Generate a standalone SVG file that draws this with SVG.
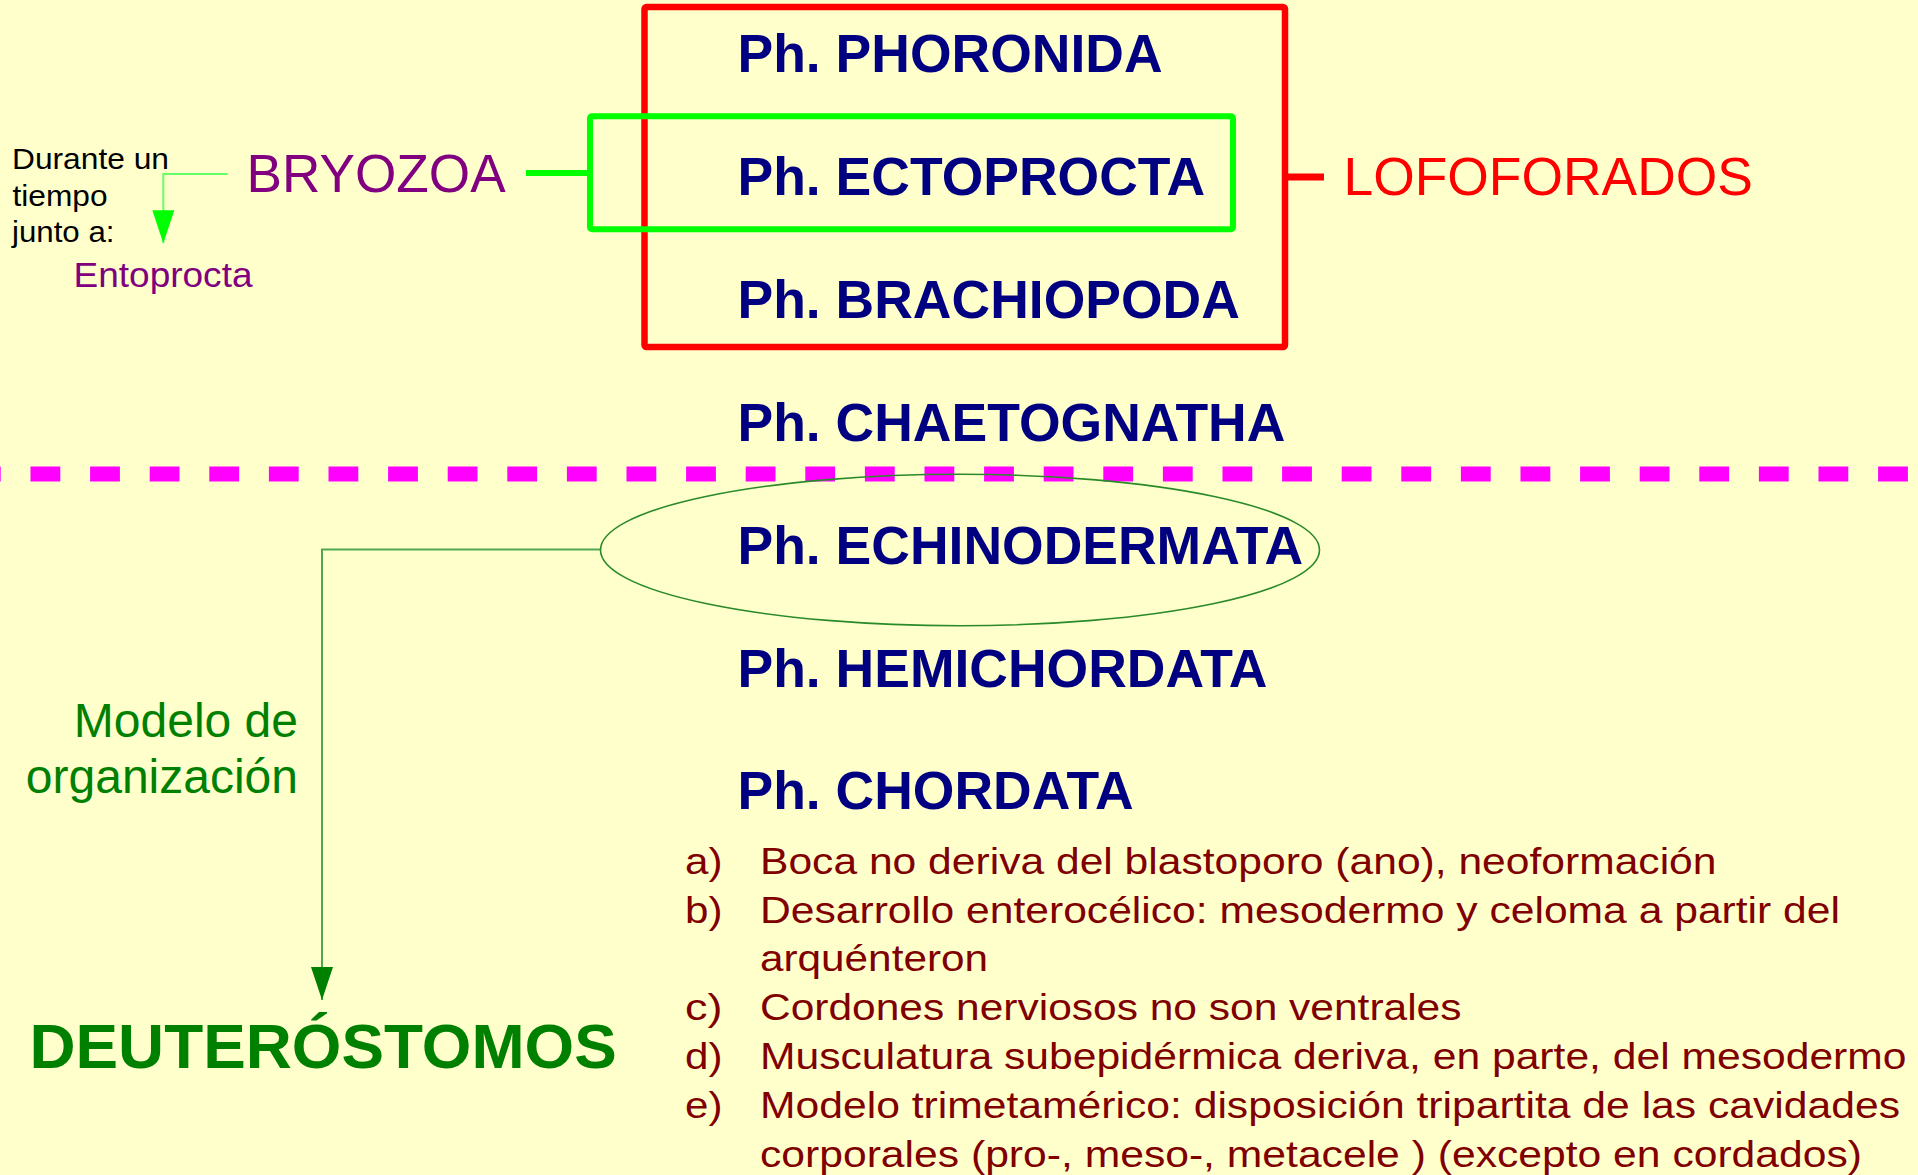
<svg xmlns="http://www.w3.org/2000/svg" width="1918" height="1175" viewBox="0 0 1918 1175">
<style>
.ph{font-family:"Liberation Sans",Arial,sans-serif;font-weight:bold;font-size:53.5px;fill:#000080}
.sans{font-family:"Liberation Sans",Arial,sans-serif}
.item{font-family:"Liberation Sans",Arial,sans-serif;font-size:36px;fill:#800000}
</style>
<defs>
<marker id="arrL" viewBox="0 0 22 33" refX="11" refY="33" markerWidth="22" markerHeight="33" markerUnits="userSpaceOnUse" orient="0">
<path d="M0 0 L22 0 L11 33 Z" fill="#00ff00"/>
</marker>
<marker id="arrD" viewBox="0 0 22 33" refX="11" refY="33" markerWidth="22" markerHeight="33" markerUnits="userSpaceOnUse" orient="0">
<path d="M0 0 L22 0 L11 33 Z" fill="#008000"/>
</marker>
</defs>
<rect x="0" y="0" width="1918" height="1175" fill="#ffffcc"/>

<g id="divider">
<line x1="0" y1="474" x2="1918" y2="474" stroke="#ff00ff" stroke-width="15" stroke-dasharray="29.8 29.8" stroke-dashoffset="29.1"/>
</g>

<g id="connectors" fill="none">
<path d="M526 173 H590" stroke="#00ff00" stroke-width="6"/>
<path d="M1285 177 H1324" stroke="#ff0000" stroke-width="7"/>
<path d="M227.7 174 H163.3 V243.3" stroke="#66ff66" stroke-width="2" marker-end="url(#arrL)"/>
<path d="M600.4 549.5 H322 V1000" stroke="#4fa84f" stroke-width="2" marker-end="url(#arrD)"/>
</g>

<g id="lofoforados-box">
<rect x="644.5" y="7" width="640.5" height="340" rx="2" fill="none" stroke="#ff0000" stroke-width="6.5"/>
</g>
<g id="bryozoa-box">
<rect x="590" y="116.3" width="643" height="113" rx="2" fill="none" stroke="#00ff00" stroke-width="6"/>
</g>
<g id="echinodermata-ellipse">
<ellipse cx="960" cy="550" rx="359.5" ry="75.7" fill="none" stroke="#2a8a2a" stroke-width="1.6"/>
</g>

<g id="phoronida"><text class="ph" x="737.5" y="71.7">Ph. PHORONIDA</text></g>
<g id="ectoprocta"><text class="ph" x="737.5" y="194.6">Ph. ECTOPROCTA</text></g>
<g id="brachiopoda"><text class="ph" x="737.5" y="317.5">Ph. BRACHIOPODA</text></g>
<g id="chaetognatha"><text class="ph" x="737.5" y="440.8">Ph. CHAETOGNATHA</text></g>
<g id="echinodermata"><text class="ph" x="737.5" y="563.8">Ph. ECHINODERMATA</text></g>
<g id="hemichordata"><text class="ph" x="737.5" y="686.5">Ph. HEMICHORDATA</text></g>
<g id="chordata"><text class="ph" x="737.5" y="809.3">Ph. CHORDATA</text></g>

<g id="lofoforados"><text class="sans" x="1343.5" y="195" font-size="53.4" fill="#ff0000">LOFOFORADOS</text></g>
<g id="bryozoa"><text class="sans" x="246.5" y="191.7" font-size="53.2" fill="#800080">BRYOZOA</text></g>

<g id="note" class="sans" font-size="29" fill="#000000">
<text x="12" y="169.3" textLength="157" lengthAdjust="spacingAndGlyphs">Durante un</text>
<text x="12.5" y="206" textLength="95" lengthAdjust="spacingAndGlyphs">tiempo</text>
<text x="12" y="242.3" textLength="102.5" lengthAdjust="spacingAndGlyphs">junto a:</text>
</g>
<g id="entoprocta"><text class="sans" x="73.5" y="286.7" font-size="35" fill="#800080" textLength="179" lengthAdjust="spacingAndGlyphs">Entoprocta</text></g>

<g id="modelo" class="sans" font-size="48" fill="#008000" text-anchor="end">
<text x="298" y="737">Modelo de</text>
<text x="298" y="792.7">organización</text>
</g>

<g id="deuterostomos"><text class="sans" x="29.5" y="1068" font-size="63.8" font-weight="bold" fill="#008000">DEUTERÓSTOMOS</text></g>

<g id="characteristics" class="item">
<text x="685" y="874" textLength="37.5" lengthAdjust="spacingAndGlyphs">a)</text>
<text x="760" y="874" textLength="956.5" lengthAdjust="spacingAndGlyphs">Boca no deriva del blastoporo (ano), neoformación</text>
<text x="685" y="922.5" textLength="37.5" lengthAdjust="spacingAndGlyphs">b)</text>
<text x="760" y="922.5" textLength="1080" lengthAdjust="spacingAndGlyphs">Desarrollo enterocélico: mesodermo y celoma a partir del</text>
<text x="760" y="971" textLength="228" lengthAdjust="spacingAndGlyphs">arquénteron</text>
<text x="685" y="1020" textLength="37.5" lengthAdjust="spacingAndGlyphs">c)</text>
<text x="760" y="1020" textLength="701.5" lengthAdjust="spacingAndGlyphs">Cordones nerviosos no son ventrales</text>
<text x="685" y="1069" textLength="37.5" lengthAdjust="spacingAndGlyphs">d)</text>
<text x="760" y="1069" textLength="1146.5" lengthAdjust="spacingAndGlyphs">Musculatura subepidérmica deriva, en parte, del mesodermo</text>
<text x="685" y="1118" textLength="37.5" lengthAdjust="spacingAndGlyphs">e)</text>
<text x="760" y="1118" textLength="1140" lengthAdjust="spacingAndGlyphs">Modelo trimetamérico: disposición tripartita de las cavidades</text>
<text x="760" y="1167" textLength="1102" lengthAdjust="spacingAndGlyphs">corporales (pro-, meso-, metacele ) (excepto en cordados)</text>
</g>
</svg>
